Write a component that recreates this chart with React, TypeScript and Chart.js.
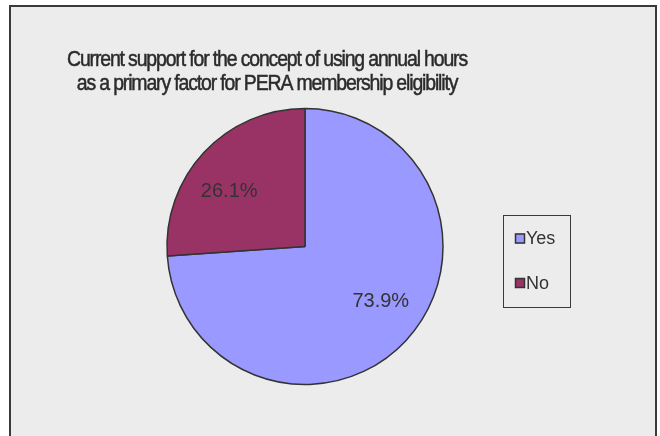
import React, { useEffect, useRef } from "react";
import { Chart, registerables } from "chart.js";

Chart.register(...registerables);

const titleLines = [
  "Current support for the concept of using annual hours",
  "as a primary factor for PERA membership eligibility",
];
const categories = ["Yes", "No"];
const values = [73.9, 26.1];
const colors = ["#9999FF", "#993366"];
const valueLabels = ["73.9%", "26.1%"];

const FONT = '"Liberation Sans", Arial, sans-serif';

const framePlugin = {
  id: "frame",
  beforeDraw(chart: any) {
    const ctx = chart.ctx;
    ctx.save();
    ctx.fillStyle = "#ffffff";
    ctx.fillRect(0, 0, chart.width, chart.height);
    ctx.fillStyle = "#ececec";
    ctx.fillRect(10, 6, 646, 440);
    ctx.strokeStyle = "#3a3a3a";
    ctx.lineWidth = 2;
    ctx.strokeRect(10, 6, 646, 440);
    ctx.restore();
  },
};

const decorPlugin = {
  id: "decor",
  afterDatasetsDraw(chart: any) {
    const ctx = chart.ctx;
    ctx.save();
    // Title (tight rendering)
    ctx.font = `22px ${FONT}`;
    (ctx as any).letterSpacing = "-1.3px";
    const w = ctx.measureText(titleLines[0]).width;
    const sx = 400 / w;
    ctx.save();
    ctx.translate(267, 0);
    ctx.scale(sx, 1);
    ctx.fillStyle = "#2b2b2b";
    ctx.strokeStyle = "#2b2b2b";
    ctx.lineWidth = 0.5;
    ctx.textAlign = "center";
    ctx.textBaseline = "alphabetic";
    titleLines.forEach((t, i) => {
      ctx.fillText(t, 0, 66 + i * 24);
      ctx.strokeText(t, 0, 66 + i * 24);
    });
    ctx.restore();
    (ctx as any).letterSpacing = "0px";

    // Value labels
    const meta = chart.getDatasetMeta(0);
    ctx.font = `20px ${FONT}`;
    ctx.textAlign = "center";
    ctx.textBaseline = "middle";
    ctx.fillStyle = "#333333";
    meta.data.forEach((arc: any, i: number) => {
      const { x, y, startAngle, endAngle, outerRadius } = arc.getProps(
        ["x", "y", "startAngle", "endAngle", "outerRadius"],
        true
      );
      const mid = (startAngle + endAngle) / 2 - 0.12;
      const r = outerRadius * 0.68;
      ctx.fillText(valueLabels[i], x + Math.cos(mid) * r, y + Math.sin(mid) * r);
    });

    // Legend
    ctx.fillStyle = "#ececec";
    ctx.fillRect(503, 215, 67, 92);
    ctx.strokeStyle = "#3a3a3a";
    ctx.lineWidth = 1;
    ctx.strokeRect(503.5, 215.5, 67, 92);
    ctx.font = `18px ${FONT}`;
    ctx.textAlign = "left";
    categories.forEach((c, i) => {
      const cy = 238.5 + i * 44.5;
      ctx.fillStyle = colors[i];
      ctx.fillRect(515, cy - 5, 10, 10);
      ctx.strokeStyle = "#333333";
      ctx.lineWidth = 1.5;
      ctx.strokeRect(515.5, cy - 4.5, 9, 9);
      ctx.fillStyle = "#333333";
      ctx.fillText(c, 526, cy + 1);
    });
    ctx.restore();
  },
};

export default function App() {
  const ref = useRef<HTMLCanvasElement>(null);
  useEffect(() => {
    document.body.style.margin = "0";
    const chart = new Chart(ref.current!, {
      type: "pie",
      data: {
        labels: categories,
        datasets: [
          {
            data: values,
            backgroundColor: colors,
            borderColor: "#333333",
            borderWidth: 1.5,
          },
        ],
      },
      options: {
        animation: false,
        responsive: false,
        radius: 138,
        layout: { padding: { left: 0, right: 50, top: 100, bottom: 43 } },
        plugins: {
          legend: { display: false },
          title: { display: false },
          tooltip: { enabled: false },
        },
      },
      plugins: [framePlugin, decorPlugin],
    });
    return () => chart.destroy();
  }, []);
  return (
    <div style={{ position: "absolute", left: 0, top: 0, width: 660, height: 436 }}>
      <canvas ref={ref} width={660} height={436} style={{ width: 660, height: 436 }} />
    </div>
  );
}
